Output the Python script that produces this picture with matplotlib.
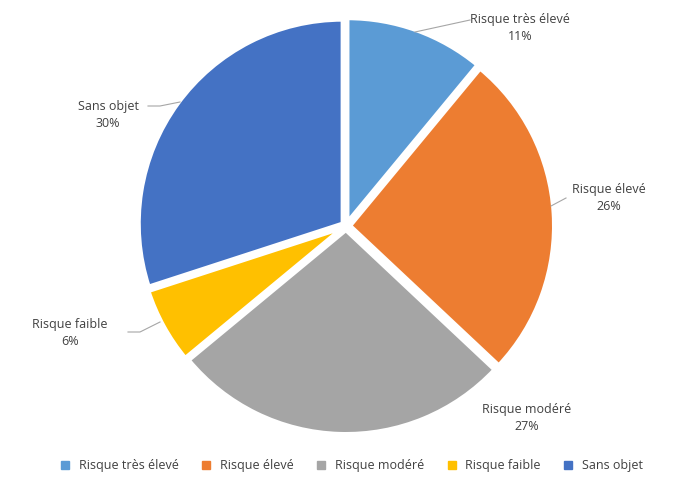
import matplotlib
matplotlib.use("Agg")
import matplotlib.pyplot as plt
from matplotlib.lines import Line2D

categories = ["Risque très élevé", "Risque élevé", "Risque modéré", "Risque faible", "Sans objet"]
values = [11, 26, 27, 6, 30]
colors = ["#5B9BD5", "#ED7D31", "#A5A5A5", "#FFC000", "#4472C4"]

plt.rcParams['font.family'] = ['Open Sans', 'DejaVu Sans']
fig = plt.figure(figsize=(7, 4.91), dpi=100)
ax = fig.add_axes([0, 0, 1, 1])
R = 204.0
cx, cy = 346, 226
def px(x, y):
    return ((x - cx) / R, (cy - y) / R)

ax.pie(values, colors=colors, startangle=90, counterclock=False, radius=1.0,
       explode=[0.02]*5, wedgeprops=dict(edgecolor="white", linewidth=3))
ax.set_xlim(-cx / R, (700 - cx) / R)
ax.set_ylim(-(491 - cy) / R, cy / R)
ax.set_aspect('equal')
ax.axis('off')

labels_px = [(520, 28), (609, 198), (527, 418), (70, 333), (108, 115)]
leaders = [[(415, 32), (470, 20)], [(551, 206), (566, 198)], None,
           [(160, 322), (140, 332), (128, 332)], [(180, 102), (160, 106), (148, 106)]]
for cat, v, (lx, ly), ld in zip(categories, values, labels_px, leaders):
    ax.text(*px(lx, ly), f"{cat}\n{v}%", ha="center", va="center", fontsize=9,
            color="#404040", linespacing=1.4)
    if ld:
        xs, ys = zip(*[px(a, b) for a, b in ld])
        ax.plot(xs, ys, color="#A6A6A6", lw=0.8)

handles = [Line2D([], [], marker="s", linestyle="none", markersize=6, color=c) for c in colors]
fig.legend(handles, categories, loc="center", bbox_to_anchor=(0.497, 1 - 466 / 491), ncol=5,
           frameon=False, fontsize=9, handletextpad=0.1, columnspacing=1.2,
           labelcolor="#404040")
fig.savefig("out.png", dpi=100)
